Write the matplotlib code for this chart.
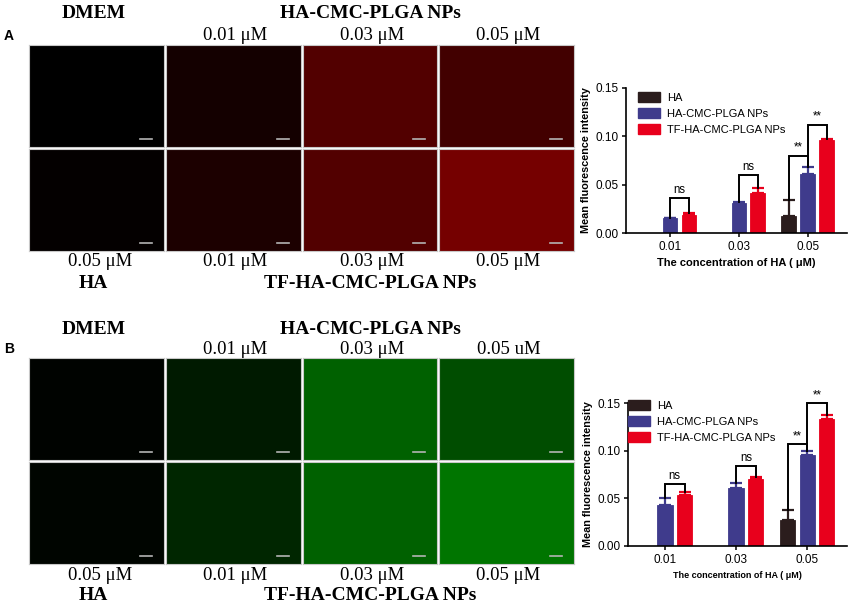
import matplotlib
matplotlib.use('Agg')
import matplotlib.pyplot as plt
from matplotlib.patches import Patch

W, H = 849, 604

# bar chart data
conc = ['0.01', '0.03', '0.05']
series = ['HA', 'HA-CMC-PLGA NPs', 'TF-HA-CMC-PLGA NPs']

a_ha = [0, 0, 0.018]
a_ha_err = [0, 0, 0.016]
a_np = [0.0152, 0.0307, 0.061]
a_np_err = [0.0005, 0.001, 0.0076]
a_tf = [0.0183, 0.0417, 0.0963]
a_tf_err = [0.0027, 0.005, 0.001]

b_ha = [0, 0, 0.027]
b_ha_err = [0, 0, 0.011]
b_np = [0.0434, 0.0605, 0.0954]
b_np_err = [0.0073, 0.0059, 0.0042]
b_tf = [0.0539, 0.0699, 0.1328]
b_tf_err = [0.003, 0.0028, 0.0042]

# significance brackets: (group, left series, right series, height, label)
a_sig = [(0, 1, 2, 0.036, 'ns'), (1, 1, 2, 0.060, 'ns'),
         (2, 0, 1, 0.080, '**'), (2, 1, 2, 0.112, '**')]
b_sig = [(0, 1, 2, 0.0647, 'ns'), (1, 1, 2, 0.0835, 'ns'),
         (2, 0, 1, 0.107, '**'), (2, 1, 2, 0.150, '**')]

# panel captions (panel B top row really says "uM" in the original)
a_top_labels = ['0.01 μM', '0.03 μM', '0.05 μM']
b_top_labels = ['0.01 μM', '0.03 μM', '0.05 uM']
bottom_labels = ['0.05 μM', '0.01 μM', '0.03 μM', '0.05 μM']

# mean brightness of the microscope panels (0-1), columns left to right
red_top = [0.0, 0.08, 0.32, 0.26]
red_bottom = [0.015, 0.11, 0.32, 0.46]
green_top = [0.01, 0.10, 0.38, 0.30]
green_bottom = [0.02, 0.15, 0.38, 0.46]

colors = ['#2b1d1d', '#3f3b8c', '#e8001c']

plt.rcParams['font.family'] = ['Liberation Sans', 'DejaVu Sans']
fig = plt.figure(figsize=(W / 100, H / 100), dpi=100)
fig.patch.set_facecolor('white')


def box(x0, y0, x1, y1):
    return [x0 / W, 1 - y1 / H, (x1 - x0) / W, (y1 - y0) / H]


def ftext(x, y, s, **kw):
    fig.text(x / W, 1 - y / H, s, ha='center', va='center', **kw)


serif = ['Liberation Serif', 'DejaVu Serif']
col_x = [(29, 164), (166, 301), (303, 437), (439, 574)]


def draw_panels(y_top, rows, channel):
    row_y = [(y_top, y_top + 102), (y_top + 104, y_top + 206)]
    for r, vals in enumerate(rows):
        for c, v in enumerate(vals):
            x0, x1 = col_x[c]
            y0, y1 = row_y[r]
            ax = fig.add_axes(box(x0, y0, x1, y1))
            rgb = [0, 0, 0]
            rgb[channel] = v
            ax.set_facecolor(rgb)
            ax.set_xlim(0, 1)
            ax.set_ylim(0, 1)
            ax.set_xticks([])
            ax.set_yticks([])
            for s in ax.spines.values():
                s.set_color('#c8c8c8')
                s.set_linewidth(0.8)
            ax.plot([0.82, 0.91], [0.08, 0.08], color='#b4b4b4', lw=1.2)


def draw_labels(y_top, letter, top_labels, dy):
    centers = [(a + b) / 2 for a, b in col_x]
    ftext(9, y_top - 9, letter, fontsize=10, fontweight='bold')
    ftext(centers[0] - 3, y_top - 32 + dy, 'DMEM', family=serif, fontsize=14, fontweight='bold')
    ftext(370, y_top - 32 + dy, 'HA-CMC-PLGA NPs', family=serif, fontsize=14, fontweight='bold')
    for c, lab in enumerate(top_labels):
        ftext(centers[c + 1] + 2, y_top - 10 + dy / 3, lab, family=serif, fontsize=13.5)
    for c, lab in enumerate(bottom_labels):
        ftext(centers[c] + (4 if c == 0 else 2), y_top + 217, lab, family=serif, fontsize=13.5)
    ftext(centers[0] - 3, y_top + 238, 'HA', family=serif, fontsize=14, fontweight='bold')
    ftext(370, y_top + 238, 'TF-HA-CMC-PLGA NPs', family=serif, fontsize=14, fontweight='bold')


def draw_bars(rect, vals, errs, sig, xlim, xlabel_size, legend_xy):
    ax = fig.add_axes(rect)
    x = range(len(conc))
    off = 0.275
    width = 0.215
    for k, (v, e) in enumerate(zip(vals, errs)):
        xs = [i + (k - 1) * off for i in x]
        keep = [i for i in x if v[i] > 0]
        ax.bar([xs[i] for i in keep], [v[i] for i in keep], width=width,
               color=colors[k], edgecolor=colors[k], linewidth=0.6, zorder=2)
        ax.errorbar([xs[i] for i in keep], [v[i] for i in keep],
                    yerr=[[0] * len(keep), [e[i] for i in keep]], fmt='none',
                    ecolor=colors[k], elinewidth=1.6, capsize=4.5, capthick=1.6, zorder=1)
    for g, l, r, h, lab in sig:
        xl = g + (l - 1) * off
        xr = g + (r - 1) * off
        yl = vals[l][g] + errs[l][g]
        yr = vals[r][g] + errs[r][g]
        ax.plot([xl, xl, xr, xr], [yl, h, h, yr], color='black', lw=1.4,
                solid_joinstyle='miter', zorder=3, clip_on=False)
        ax.text((xl + xr) / 2, h + 0.002, lab, ha='center', va='bottom', fontsize=8.3)
    ax.set_xlim(*xlim)
    ax.set_ylim(0, 0.15)
    ax.set_yticks([0, 0.05, 0.10, 0.15])
    ax.set_yticklabels(['0.00', '0.05', '0.10', '0.15'])
    ax.set_xticks(list(x))
    ax.set_xticklabels(conc)
    ax.tick_params(labelsize=8.5, length=3, width=1.1, pad=2.5)
    for s in ['top', 'right']:
        ax.spines[s].set_visible(False)
    for s in ['left', 'bottom']:
        ax.spines[s].set_linewidth(1.2)
    ax.set_ylabel('Mean fluorescence intensity', fontsize=7.8, fontweight='bold', labelpad=3)
    ax.set_xlabel('The concentration of HA ( μM)', fontsize=xlabel_size, fontweight='bold', labelpad=4)
    handles = [Patch(facecolor=c, edgecolor=c) for c in colors]
    ax.legend(handles, series, loc='upper left', bbox_to_anchor=legend_xy,
              frameon=False, fontsize=8.0, handlelength=2.0, handleheight=0.9,
              labelspacing=0.5, handletextpad=0.6, borderaxespad=0)
    return ax


draw_panels(45, [red_top, red_bottom], 0)
draw_labels(45, 'A', a_top_labels, 0)
draw_panels(358, [green_top, green_bottom], 1)
draw_labels(358, 'B', b_top_labels, 4)

draw_bars(box(626, 88, 847, 233), [a_ha, a_np, a_tf], [a_ha_err, a_np_err, a_tf_err],
          a_sig, (-0.64, 2.57), 8, (0.035, 1.0))
draw_bars(box(628, 403, 847, 546), [b_ha, b_np, b_tf], [b_ha_err, b_np_err, b_tf_err],
          b_sig, (-0.52, 2.56), 6.5, (-0.02, 1.05))

fig.savefig('out.png', dpi=100)
